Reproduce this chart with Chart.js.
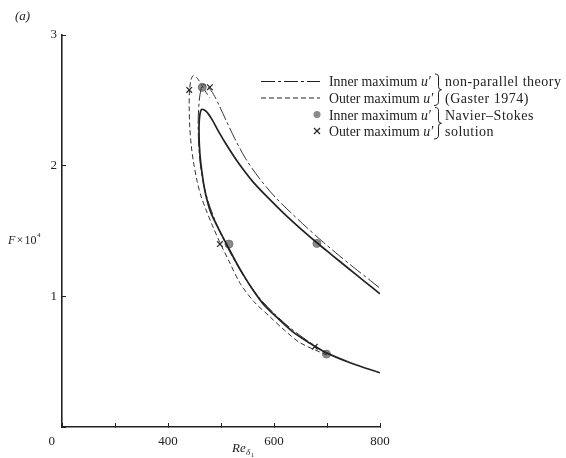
<!DOCTYPE html>
<html><head><meta charset="utf-8">
<script src="https://cdn.jsdelivr.net/npm/chart.js@4/dist/chart.umd.min.js"></script>
<style>html,body{margin:0;padding:0;background:#fff;}canvas{display:block;}</style>
</head><body>
<canvas id="c" width="566" height="458"></canvas>
<script>
// ---- data ----
const xLabelMap = {400: '400', 600: '600', 800: '800'};
const yLabelMap = {1: '1', 2: '2', 3: '3'};

// unlabelled solid curve
const solidRe = [800, 745, 695, 668, 635, 605, 578, 552, 530, 513, 495, 480, 470, 464, 460, 458.5, 459.5, 463.5, 472, 482, 495, 510, 532, 560, 590, 620, 650, 681, 710, 740, 770, 800];
const solidF  = [0.415, 0.49, 0.575, 0.64, 0.73, 0.84, 0.95, 1.10, 1.25, 1.38, 1.52, 1.65, 1.80, 1.95, 2.10, 2.25, 2.37, 2.43, 2.415, 2.36, 2.264, 2.162, 2.026, 1.878, 1.749, 1.629, 1.518, 1.41, 1.314, 1.215, 1.117, 1.02];

// inner maximum u' – non-parallel theory (dash-dot)
const innerTheoryRe = [700, 665, 630, 600, 572, 545, 522, 503, 487, 474, 465, 460, 457.5, 457, 459, 462, 466, 476, 486, 497, 510, 526, 546, 572, 602, 632, 662, 693, 722, 752, 782, 800];
const innerTheoryF  = [0.565, 0.655, 0.76, 0.87, 0.99, 1.14, 1.30, 1.45, 1.60, 1.75, 1.90, 2.05, 2.20, 2.35, 2.50, 2.58, 2.62, 2.60, 2.545, 2.457, 2.343, 2.207, 2.057, 1.905, 1.76, 1.64, 1.526, 1.414, 1.315, 1.216, 1.12, 1.062];

// outer maximum u' – non-parallel theory (dashed)
const outerTheoryRe = [700, 649, 620, 592, 562, 536, 515, 497, 484, 472, 462, 455, 448, 444, 441, 440, 440.5, 443, 447.7, 455, 463, 472, 479];
const outerTheoryF  = [0.55, 0.645, 0.74, 0.845, 0.96, 1.10, 1.27, 1.42, 1.54, 1.66, 1.77, 1.88, 2.03, 2.15, 2.30, 2.45, 2.57, 2.65, 2.69, 2.67, 2.62, 2.56, 2.52];

// Navier-Stokes solution points
const nsInnerRe = [464.7, 515, 681, 699];
const nsInnerF  = [2.60, 1.40, 1.405, 0.558];
const nsOuterRe = [440, 479, 498, 677];
const nsOuterF  = [2.58, 2.60, 1.40, 0.615];

// legend texts
const legendLabels = ['Inner maximum ', 'Outer maximum ', 'Inner maximum ', 'Outer maximum '];
const legendGroups = ['non-parallel theory', '(Gaster 1974)', 'Navier\u2013Stokes', 'solution'];

const pts = (xs, ys) => xs.map((x, i) => ({x: x, y: ys[i]}));
const INK = '#222';
const SERIF = '"Liberation Serif", "DejaVu Serif", serif';

const annot = {
  id: 'annot',
  afterDraw(chart) {
    const ctx = chart.ctx, ys = chart.scales.y;
    ctx.save();
    ctx.fillStyle = INK; ctx.strokeStyle = INK;
    ctx.textBaseline = 'alphabetic';
    ctx.textAlign = 'left';
    // panel label
    ctx.font = 'italic 13px ' + SERIF;
    ctx.fillText('(a)', 15, 20);
    // y title  F x 10^4
    ctx.font = 'italic 12px ' + SERIF;
    ctx.fillText('F', 8, 244);
    ctx.font = '12px ' + SERIF;
    ctx.fillText('\u00d7', 16.5, 244);
    ctx.fillText('10', 24.5, 244);
    ctx.font = '7px ' + SERIF;
    ctx.fillText('4', 37, 237);
    // origin 0
    ctx.font = '13px ' + SERIF;
    ctx.textAlign = 'right';
    ctx.fillText('0', ys.right - 7, 445);
    // x title
    ctx.textAlign = 'left';
    ctx.font = 'italic 13px ' + SERIF;
    ctx.fillText('Re', 232, 452);
    ctx.font = 'italic 9px ' + SERIF;
    ctx.fillText('\u03b4', 246, 455);
    ctx.font = '6px ' + SERIF;
    ctx.fillText('1', 251, 457);

    // legend
    const rows = [86, 102.5, 119.5, 136];
    const lx0 = 261, lx1 = 320, tx = 329, bx = 434, gx = 445;
    ctx.lineWidth = 1;
    ctx.setLineDash([14, 3, 3, 3]);
    ctx.beginPath(); ctx.moveTo(lx0, rows[0] - 4.5); ctx.lineTo(lx1, rows[0] - 4.5); ctx.stroke();
    ctx.setLineDash([5, 3]);
    ctx.beginPath(); ctx.moveTo(lx0, rows[1] - 4.5); ctx.lineTo(lx1, rows[1] - 4.5); ctx.stroke();
    ctx.setLineDash([]);
    ctx.fillStyle = '#8a8a8a';
    ctx.beginPath(); ctx.arc(317, rows[2] - 5, 3.5, 0, Math.PI * 2); ctx.fill();
    ctx.strokeStyle = INK; ctx.lineWidth = 1.2;
    ctx.beginPath(); ctx.moveTo(314, rows[3] - 8); ctx.lineTo(320, rows[3] - 2);
    ctx.moveTo(320, rows[3] - 8); ctx.lineTo(314, rows[3] - 2); ctx.stroke();
    ctx.fillStyle = INK;
    const fsz = 13.8;
    for (let i = 0; i < 4; i++) {
      ctx.font = fsz + 'px ' + SERIF;
      ctx.fillText(legendLabels[i], tx, rows[i]);
      const w = ctx.measureText(legendLabels[i]).width;
      ctx.font = 'italic ' + fsz + 'px ' + SERIF;
      ctx.fillText('u\u2032', tx + w, rows[i]);
    }
    ctx.font = '14px ' + SERIF;
    try { ctx.letterSpacing = '0.5px'; } catch (e) {}
    legendGroups.forEach((g, i) => ctx.fillText(g, gx, rows[i]));
    try { ctx.letterSpacing = '0px'; } catch (e) {}
    // braces
    ctx.lineWidth = 1;
    const brace = (x, y0, y1) => {
      const ym = (y0 + y1) / 2;
      ctx.beginPath();
      ctx.moveTo(x - 2, y0);
      ctx.quadraticCurveTo(x + 2, y0, x + 1.5, y0 + 4);
      ctx.lineTo(x + 1.5, ym - 3);
      ctx.quadraticCurveTo(x + 1.5, ym, x + 4.5, ym);
      ctx.quadraticCurveTo(x + 1.5, ym, x + 1.5, ym + 3);
      ctx.lineTo(x + 1.5, y1 - 4);
      ctx.quadraticCurveTo(x + 1.5, y1, x - 3, y1);
      ctx.stroke();
    };
    brace(bx + 3, rows[0] - 12, rows[1] + 3);
    brace(bx + 3, rows[2] - 12, rows[3] + 3);
    ctx.restore();
  }
};

new Chart(document.getElementById('c'), {
  type: 'scatter',
  data: {
    datasets: [
      { data: pts(solidRe, solidF), showLine: true, borderColor: INK, borderWidth: 1.7, pointRadius: 0, tension: 0.3, fill: false },
      { data: pts(innerTheoryRe, innerTheoryF), showLine: true, borderColor: '#333', borderWidth: 1, borderDash: [14, 3, 3, 3], pointRadius: 0, tension: 0.3, fill: false },
      { data: pts(outerTheoryRe, outerTheoryF), showLine: true, borderColor: '#333', borderWidth: 1, borderDash: [5, 3], pointRadius: 0, tension: 0.3, fill: false },
      { data: pts(nsInnerRe, nsInnerF), showLine: false, pointRadius: 4, pointBackgroundColor: '#8a8a8a', pointBorderColor: '#777', pointBorderWidth: 1 },
      { data: pts(nsOuterRe, nsOuterF), showLine: false, pointStyle: 'crossRot', pointRadius: 4, pointBorderColor: INK, pointBorderWidth: 1.2 }
    ]
  },
  options: {
    responsive: false, animation: false,
    layout: { padding: { left: 0, top: 35, right: 186, bottom: 0 } },
    plugins: { legend: { display: false }, tooltip: { enabled: false } },
    scales: {
      x: {
        type: 'linear', min: 200, max: 800,
        afterFit: s => { s.height = 31; },
        border: { display: true, color: INK, width: 1.6 },
        grid: { drawOnChartArea: false, drawTicks: true, tickLength: -4, color: INK, lineWidth: 1 },
        ticks: { stepSize: 100, padding: 11, color: INK, font: { family: SERIF, size: 13 }, maxRotation: 0, autoSkip: false,
          callback: v => xLabelMap[v] || '' }
      },
      y: {
        type: 'linear', min: 0, max: 3,
        afterFit: s => { s.width = 62; },
        border: { display: true, color: INK, width: 1.6 },
        grid: { drawOnChartArea: false, drawTicks: true, tickLength: -4, color: INK, lineWidth: 1 },
        ticks: { stepSize: 1, padding: 9, color: INK, font: { family: SERIF, size: 13 },
          callback: v => yLabelMap[v] || '' }
      }
    }
  },
  plugins: [annot]
});
</script>
</body></html>
